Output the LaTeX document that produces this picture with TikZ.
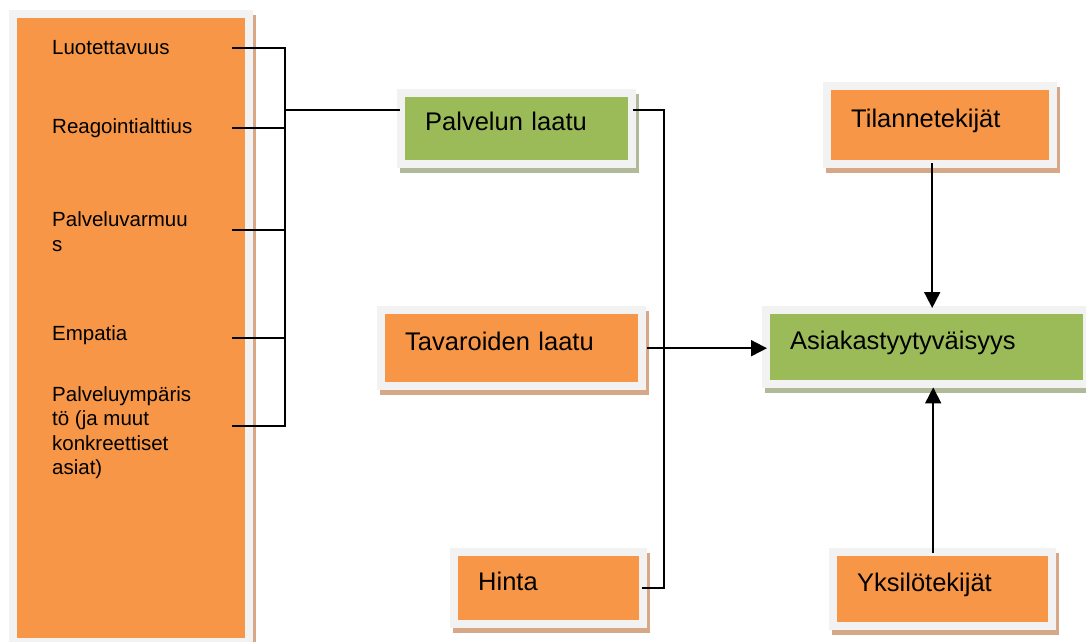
\documentclass[tikz,border=0pt]{standalone}
\usepackage{fontspec}
\setmainfont{Liberation Sans}
\usetikzlibrary{arrows.meta,backgrounds}
\definecolor{boxorange}{HTML}{F79646}
\definecolor{boxgreen}{HTML}{9BBB59}
\definecolor{framegray}{HTML}{F2F2F2}
\definecolor{oshade}{HTML}{D6A887}
\definecolor{gshade}{HTML}{B0BA98}
\newcommand\boxdeco[2]{%
  \fill[#2] ([shift={(-5pt,-13pt)}]#1.south west) rectangle ([shift={(11pt,3pt)}]#1.north east);
  \fill[framegray] ([shift={(-8pt,-8pt)}]#1.south west) rectangle ([shift={(8pt,8pt)}]#1.north east);}
\tikzset{
  mainbox/.style 2 args={anchor=north west, inner xsep=20pt, inner ysep=0pt,
    text width=#1, minimum height=#2, text height=18pt, text depth=14pt,
    align=left, font=\fontsize{25.5}{30}\selectfont},
  itemtext/.style={anchor=north west, inner sep=0pt, align=left,
    font=\fontsize{20.5}{24.5}\selectfont},
  conn/.style={draw=black, line width=1.8pt},
  arr/.style={conn, -{Triangle[length=16pt,width=16pt]}}
}
\begin{document}
\begin{tikzpicture}[x=1pt,y=-1pt]
\useasboundingbox (0,0) rectangle (1086,641);
% big left box
\node[fill=boxorange, anchor=north west, minimum width=228pt, minimum height=620pt, inner sep=0pt] (lb) at (17,18) {};
\node[itemtext] (t1) at (52,40) {Luotettavuus};
\node[itemtext] (t2) at (52,118) {Reagointialttius};
\node[itemtext] (t3) at (52,211.5) {Palveluvarmuu\\s};
\node[itemtext] (t4) at (52,325) {Empatia};
\node[itemtext] (t5) at (52,386) {Palveluympäris\\tö (ja muut\\konkreettiset\\asiat)};
% main boxes
\node[mainbox={183pt}{63pt}, fill=boxgreen] (pl) at (405,97) {Palvelun laatu};
\node[mainbox={213pt}{68pt}, fill=boxorange] (tv) at (385,314) {Tavaroiden laatu};
\node[mainbox={141pt}{64pt}, fill=boxorange] (hi) at (458,556) {Hinta};
\node[mainbox={178pt}{70pt}, fill=boxorange] (ti) at (831,90) {Tilannetekijät};
\node[mainbox={273pt}{66pt}, fill=boxgreen] (as) at (770,314) {Asiakastyytyväisyys};
\node[mainbox={171pt}{66pt}, fill=boxorange] (yk) at (837,556) {Yksilötekijät};
\begin{scope}[on background layer]
  \boxdeco{lb}{oshade}
  \boxdeco{pl}{gshade}
  \boxdeco{tv}{oshade}
  \boxdeco{hi}{oshade}
  \boxdeco{ti}{oshade}
  \boxdeco{as}{gshade}
  \boxdeco{yk}{oshade}
\end{scope}
% connectors
\coordinate (l1) at (232,48);
\coordinate (l2) at (232,128);
\coordinate (l3) at (232,230);
\coordinate (l4) at (232,338);
\coordinate (l5) at (232,426);
\coordinate (bx) at (285,110);
\coordinate (vx) at (664,348);
\draw[conn] (l1) -| (bx);
\draw[conn] (l2) -| (bx);
\draw[conn] (l3) -| (bx);
\draw[conn] (l4) -| (bx);
\draw[conn] (l5) -| (bx);
\draw[conn] (bx) -- ([xshift=-5pt]pl.west |- bx);
\draw[conn] ([xshift=5pt]pl.east |- bx) -| (vx) |- ([xshift=3pt]hi.east);
\draw[arr] ([xshift=9pt]tv.east) -- ([xshift=-3pt]as.west |- tv.east);
\draw[arr] ([xshift=-8pt,yshift=-3pt]ti.south) -- ([xshift=-8pt,yshift=6pt]ti.south |- as.north);
\draw[arr] ([xshift=-9.5pt,yshift=3pt]yk.north) -- ([xshift=-9.5pt,yshift=-7pt]yk.north |- as.south);
\end{tikzpicture}
\end{document}
